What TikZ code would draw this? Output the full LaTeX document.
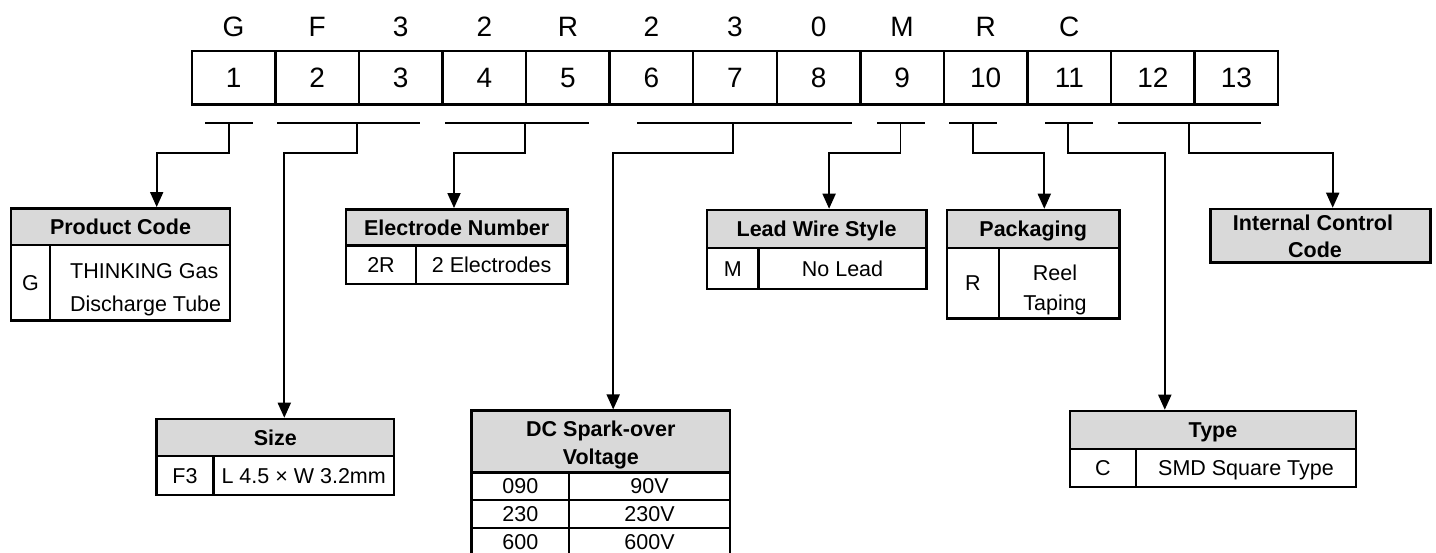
\documentclass[tikz,border=0pt]{standalone}
\usepackage{fontspec}
\setmainfont{Liberation Sans}
\usetikzlibrary{arrows.meta}
\definecolor{hdrgray}{RGB}{217,217,217}
\tikzset{
  topcell/.style={draw, line width=2.5pt, minimum width=83.57pt, minimum height=53.6pt, inner sep=0pt,
    font=\fontsize{28}{34}\selectfont, text height=20pt, text depth=0pt},
  toplet/.style={inner sep=0pt, font=\fontsize{28}{34}\selectfont, text height=20pt, text depth=0pt},
  tcell/.style={draw, line width=2.5pt, inner sep=0pt, font=\fontsize{21.5}{26}\selectfont,
    text height=15.4pt, text depth=0pt},
  thead/.style={tcell, fill=hdrgray, font=\fontsize{21.5}{26}\selectfont\bfseries},
  ttext/.style={inner sep=0pt, font=\fontsize{21.5}{26}\selectfont, text height=15.4pt, text depth=0pt},
  tbold/.style={ttext, font=\fontsize{21.5}{26}\selectfont\bfseries},
  barline/.style={line width=1.8pt},
  conn/.style={line width=1.8pt},
  arr/.style={conn, -{Triangle[length=15pt,width=13pt]}},
}
\begin{document}
\begin{tikzpicture}[x=1pt,y=-1pt]
\useasboundingbox (0,0) rectangle (1436,553);

% top code row
\foreach \i in {1,...,13}
  \node[topcell] (c\i) at ({191.8+(\i-0.5)*83.57},77.8) {\i};
\foreach \i/\tg in {1/G,2/F,3/3,4/2,5/R,6/2,7/3,8/0,9/M,10/R,11/C}
  \node[toplet] (l\i) at ({191.8+(\i-0.5)*83.57},26.5) {\tg};

% Product Code
\node[thead, minimum width=219pt, minimum height=36.7pt] (h1) at (120.5,226.65) {Product Code};
\node[tcell, minimum width=39pt, minimum height=75.7pt] (k1) at (30.5,282.85) {G};
\node[tcell, minimum width=180pt, minimum height=75.7pt] (v1) at (140,282.85) {};
\node[ttext, anchor=west] (v1a) at (70,270.5) {THINKING Gas};
\node[ttext, anchor=west] (v1b) at (70,303.7) {Discharge Tube};

% Size
\node[thead, minimum width=237.3pt, minimum height=37pt] (h2) at (275.35,437.5) {Size};
\node[tcell, minimum width=56.6pt, minimum height=39pt] (k2) at (185,475.5) {F3};
\node[tcell, minimum width=180.7pt, minimum height=39pt] (v2) at (303.65,475.5) {L 4.5 × W 3.2mm};

% Electrode Number
\node[thead, minimum width=221.3pt, minimum height=36.4pt] (h3) at (456.65,227.5) {Electrode Number};
\node[tcell, minimum width=70pt, minimum height=38.3pt] (k3) at (381,264.85) {2R};
\node[tcell, minimum width=151.3pt, minimum height=38.3pt] (v3) at (491.65,264.85) {2 Electrodes};

% DC Spark-over Voltage
\node[thead, minimum width=258.3pt, minimum height=61.6pt] (h4) at (600.85,441.5) {};
\node[tbold] (h4a) at (600.85,429.2) {DC Spark-over};
\node[tbold] (h4b) at (600.85,457) {Voltage};
\foreach \r/\ky/\vl [count=\n] in {0/090/90V,1/230/230V,2/600/600V}{
  \node[tcell, minimum width=97.3pt, minimum height=27.9pt] (dk\n) at (520.35,{486.25+27.9*\r}) {\ky};
  \node[tcell, minimum width=161pt, minimum height=27.9pt] (dv\n) at (649.5,{486.25+27.9*\r}) {\vl};
}

% Lead Wire Style
\node[thead, minimum width=219.6pt, minimum height=38pt] (h5) at (816.6,229) {Lead Wire Style};
\node[tcell, minimum width=51.8pt, minimum height=41pt] (k5) at (732.7,268.5) {M};
\node[tcell, minimum width=167.8pt, minimum height=41pt] (v5) at (842.5,268.5) {No Lead};

% Packaging
\node[thead, minimum width=172.2pt, minimum height=38pt] (h6) at (1033.2,229) {Packaging};
\node[tcell, minimum width=51.8pt, minimum height=70.6pt] (k6) at (973,283.3) {R};
\node[tcell, minimum width=120.4pt, minimum height=70.6pt] (v6) at (1059.1,283.3) {};
\node[ttext] (v6a) at (1055,272.5) {Reel};
\node[ttext] (v6b) at (1055,303.2) {Taping};

% Type
\node[thead, minimum width=286pt, minimum height=38pt] (h7) at (1213,430) {Type};
\node[tcell, minimum width=66pt, minimum height=38pt] (k7) at (1103,468) {C};
\node[tcell, minimum width=220pt, minimum height=38pt] (v7) at (1246,468) {SMD Square Type};

% Internal Control Code
\node[thead, minimum width=220pt, minimum height=53.3pt] (h8) at (1320.7,235.65) {};
\node[tbold] (h8a) at (1313,223) {Internal Control};
\node[tbold] (h8b) at (1315,249.7) {Code};

% brackets and connectors
\foreach \i/\l/\r/\s/\a/\tg in {1/205/252.5/228.6/156.7/h1,
                               2/277/420.4/356.8/284.3/h2,
                               3/445/589/525/454/h3,
                               4/637/852/732.7/613.2/h4,
                               5/877/924.6/900.4/829.1/h5,
                               6/949/997/972.9/1044.3/h6,
                               7/1045/1092.5/1068.2/1164.8/h7,
                               8/1117.5/1261/1189/1332.7/h8}{
  \coordinate (bl\i) at (\l,123.2);
  \coordinate (br\i) at (\r,123.2);
  \coordinate (s\i) at (\s,123.2);
  \coordinate (a\i) at (\a,152.9);
  \draw[barline] (bl\i) -- (br\i);
  \draw[arr] (s\i) |- (a\i) -- (a\i |- \tg.north);
}
\end{tikzpicture}
\end{document}
